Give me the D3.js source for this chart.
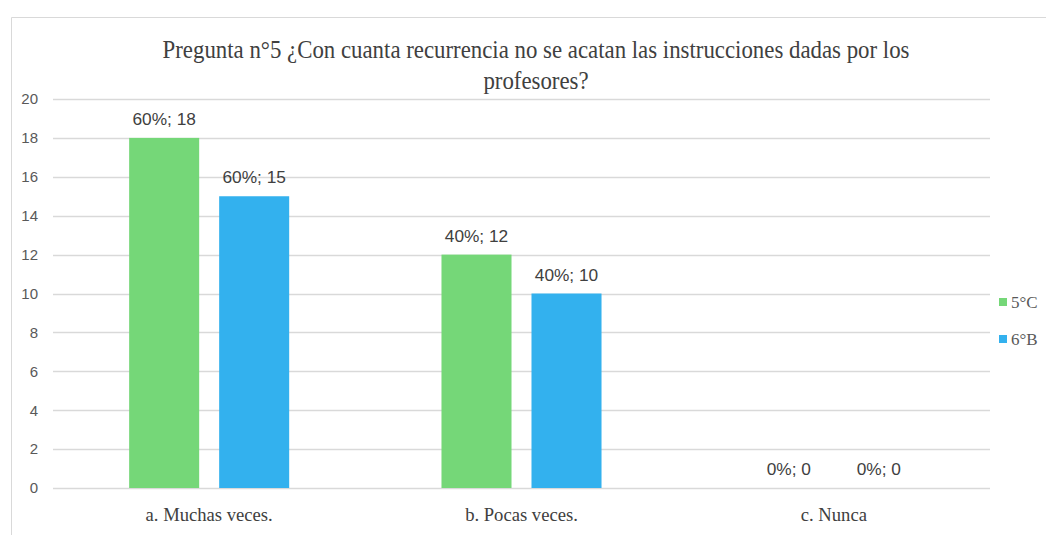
<!DOCTYPE html>
<html><head><meta charset="utf-8">
<script src="https://cdn.jsdelivr.net/npm/d3@7"></script>
<style>body{margin:0;background:#fff}svg{display:block}</style>
</head><body>
<svg id="c" width="1046" height="535"></svg>
<script>
const categories = ["a. Muchas veces.", "b. Pocas veces.", "c. Nunca"];
const seriesNames = ["5°C", "6°B"];
const values5C = [18, 12, 0];
const values6B = [15, 10, 0];
const pct5C = ["60%", "40%", "0%"];
const pct6B = ["60%", "40%", "0%"];
const yTicks = [0, 2, 4, 6, 8, 10, 12, 14, 16, 18, 20];
const colors = ["#75D778", "#33B1EE"];
const titleLines = ["Pregunta n°5 ¿Con cuanta recurrencia no se acatan las instrucciones dadas por los", "profesores?"];

const svg = d3.select("#c");
const m = {left: 53, right: 990, top: 99, bottom: 488};

// chart border
svg.append("path").attr("d", "M11.5,535 V17.5 H1046").attr("fill", "none").attr("stroke", "#d9d9d9").attr("stroke-width", 1);

function condense(sel, f) {
  sel.each(function() {
    const w = this.getComputedTextLength();
    d3.select(this).attr("textLength", w * f).attr("lengthAdjust", "spacingAndGlyphs");
  });
}

const x0 = d3.scaleBand().domain(categories).range([m.left, m.right]).paddingInner(0).paddingOuter(0);
const x1 = d3.scaleBand().domain(seriesNames).range([0, x0.bandwidth()]).paddingInner(0.222).paddingOuter(0.846);
const y = d3.scaleLinear().domain([0, 20]).range([m.bottom, m.top]);

// gridlines
svg.append("g").selectAll("line").data(yTicks).join("line")
  .attr("x1", m.left).attr("x2", m.right)
  .attr("y1", d => Math.round(y(d)) + 0.5).attr("y2", d => Math.round(y(d)) + 0.5)
  .attr("stroke", "#d9d9d9").attr("stroke-width", 1.3);

// y axis labels
const yAxis = d3.axisLeft(y).tickValues(yTicks).tickSize(0).tickPadding(15);
const gy = svg.append("g").attr("transform", `translate(${m.left},0)`).call(yAxis);
gy.select(".domain").remove();
gy.selectAll("text").attr("font-family", "Liberation Sans, Arial, sans-serif").attr("font-size", 15).attr("fill", "#595959");

// bars
const series = [values5C, values6B];
const pcts = [pct5C, pct6B];
const data = [];
categories.forEach((c, i) => seriesNames.forEach((s, j) => data.push({c, s, j, v: series[j][i], p: pcts[j][i]})));

svg.append("g").selectAll("rect").data(data).join("rect")
  .attr("x", d => x0(d.c) + x1(d.s))
  .attr("width", x1.bandwidth())
  .attr("y", d => y(d.v))
  .attr("height", d => y(0) - y(d.v))
  .attr("fill", d => colors[d.j]);

// data labels
svg.append("g").selectAll("text").data(data).join("text")
  .attr("x", d => x0(d.c) + x1(d.s) + x1.bandwidth() / 2)
  .attr("y", d => y(d.v) - 13)
  .attr("text-anchor", "middle")
  .attr("font-family", "Liberation Sans, Arial, sans-serif").attr("font-size", 16)
  .attr("fill", "#404040")
  .text(d => `${d.p}; ${d.v}`)
  .call(condense, 1.08);

// x axis labels
const xAxis = d3.axisBottom(x0).tickSize(0).tickPadding(20);
const gx = svg.append("g").attr("transform", `translate(0,${m.bottom})`).call(xAxis);
gx.select(".domain").remove();
gx.selectAll("text").attr("font-family", "Liberation Serif, Times New Roman, serif").attr("font-size", 19).attr("fill", "#404040")
  .call(condense, 0.98);

// title
svg.append("g").selectAll("text").data(titleLines).join("text")
  .attr("x", 536).attr("y", (d, i) => 58 + i * 31)
  .attr("text-anchor", "middle")
  .attr("font-family", "Liberation Serif, Times New Roman, serif").attr("font-size", 25)
  .attr("fill", "#404040")
  .text(d => d)
  .call(condense, 0.913);

// legend
const lg = svg.append("g").selectAll("g").data(seriesNames).join("g")
  .attr("transform", (d, i) => `translate(999,${302 + i * 37})`);
lg.append("rect").attr("x", 0).attr("y", -4).attr("width", 8).attr("height", 8).attr("fill", (d, i) => colors[i]);
lg.append("text").attr("x", 12).attr("y", 6)
  .attr("font-family", "Liberation Serif, Times New Roman, serif").attr("font-size", 17).attr("fill", "#595959")
  .text(d => d);
</script>
</body></html>
